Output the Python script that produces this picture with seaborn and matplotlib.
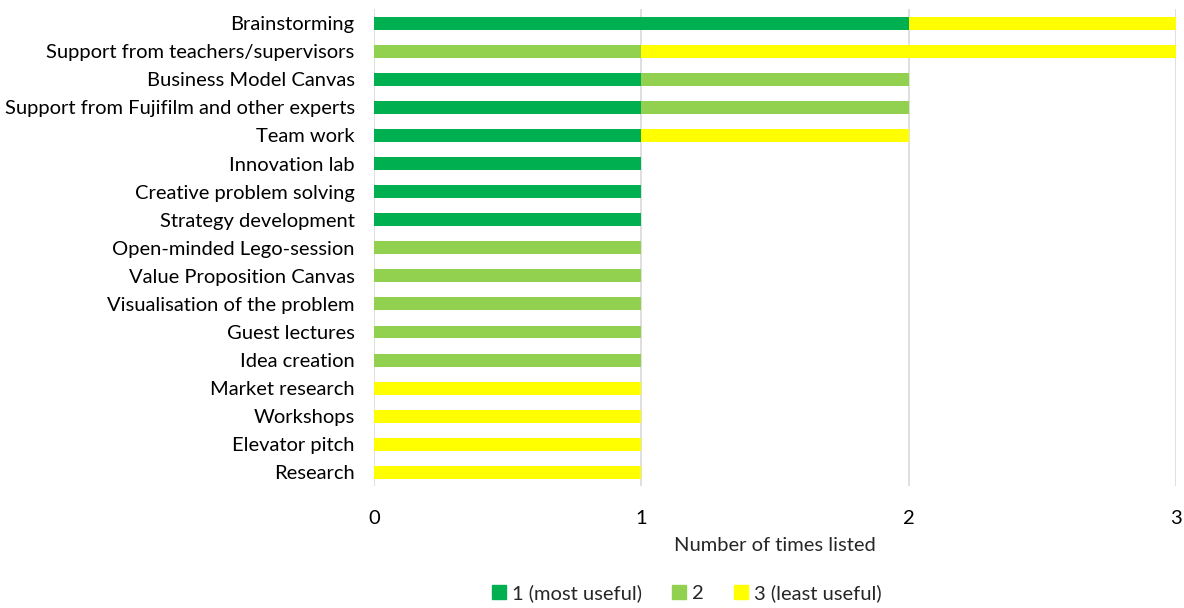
import matplotlib.pyplot as plt
import matplotlib.patches as mpatches
import pandas as pd
import seaborn as sns

categories = ['Brainstorming', 'Support from teachers/supervisors', 'Business Model Canvas',
              'Support from Fujifilm and other experts', 'Team work', 'Innovation lab',
              'Creative problem solving', 'Strategy development', 'Open-minded Lego-session',
              'Value Proposition Canvas', 'Visualisation of the problem', 'Guest lectures',
              'Idea creation', 'Market research', 'Workshops', 'Elevator pitch', 'Research']
rank1 = [2, 0, 1, 1, 1, 1, 1, 1, 0, 0, 0, 0, 0, 0, 0, 0, 0]
rank2 = [0, 1, 1, 1, 0, 0, 0, 0, 1, 1, 1, 1, 1, 0, 0, 0, 0]
rank3 = [1, 2, 0, 0, 1, 0, 0, 0, 0, 0, 0, 0, 0, 1, 1, 1, 1]
series_labels = ['1 (most useful)', '2', '3 (least useful)']
colors = ['#00B050', '#92D050', '#FFFF00']

df = pd.DataFrame({'item': categories, 'r1': rank1, 'r2': rank2, 'r3': rank3})
df['c2'] = df['r1'] + df['r2']
df['c3'] = df['c2'] + df['r3']

sns.set_style('white')
plt.rcParams['font.family'] = ['Lato', 'DejaVu Sans']

fig, ax = plt.subplots(figsize=(11.84, 6.08), dpi=100)
fig.subplots_adjust(left=0.316, right=0.993, top=0.985, bottom=0.2)

# stack by overlaying cumulative totals
for col, c in zip(['c3', 'c2', 'r1'], colors[::-1]):
    sns.barplot(data=df, y='item', x=col, orient='h', color=c, width=0.46,
                linewidth=0, saturation=1, ax=ax)

ax.set_xlim(0, 3)
ax.set_xticks([0, 1, 2, 3])
ax.xaxis.grid(True, color='#D9D9D9', linewidth=1.2)
ax.set_axisbelow(True)
for s in ax.spines.values():
    s.set_visible(False)
ax.tick_params(axis='both', length=0, labelsize=14.5, colors='black')
ax.tick_params(axis='x', pad=17)
ax.tick_params(axis='y', pad=14)
ax.set_ylabel('')
ax.set_xlabel('Number of times listed', fontsize=14.5, labelpad=7)

handles = [mpatches.Patch(color=c, label=l) for c, l in zip(colors, series_labels)]
fig.legend(handles=handles, loc='lower center', bbox_to_anchor=(0.58, -0.02), ncol=3,
           frameon=False, fontsize=14.5, handlelength=0.7, handleheight=0.7,
           handletextpad=0.3, columnspacing=1.5)

plt.savefig('out.png')
